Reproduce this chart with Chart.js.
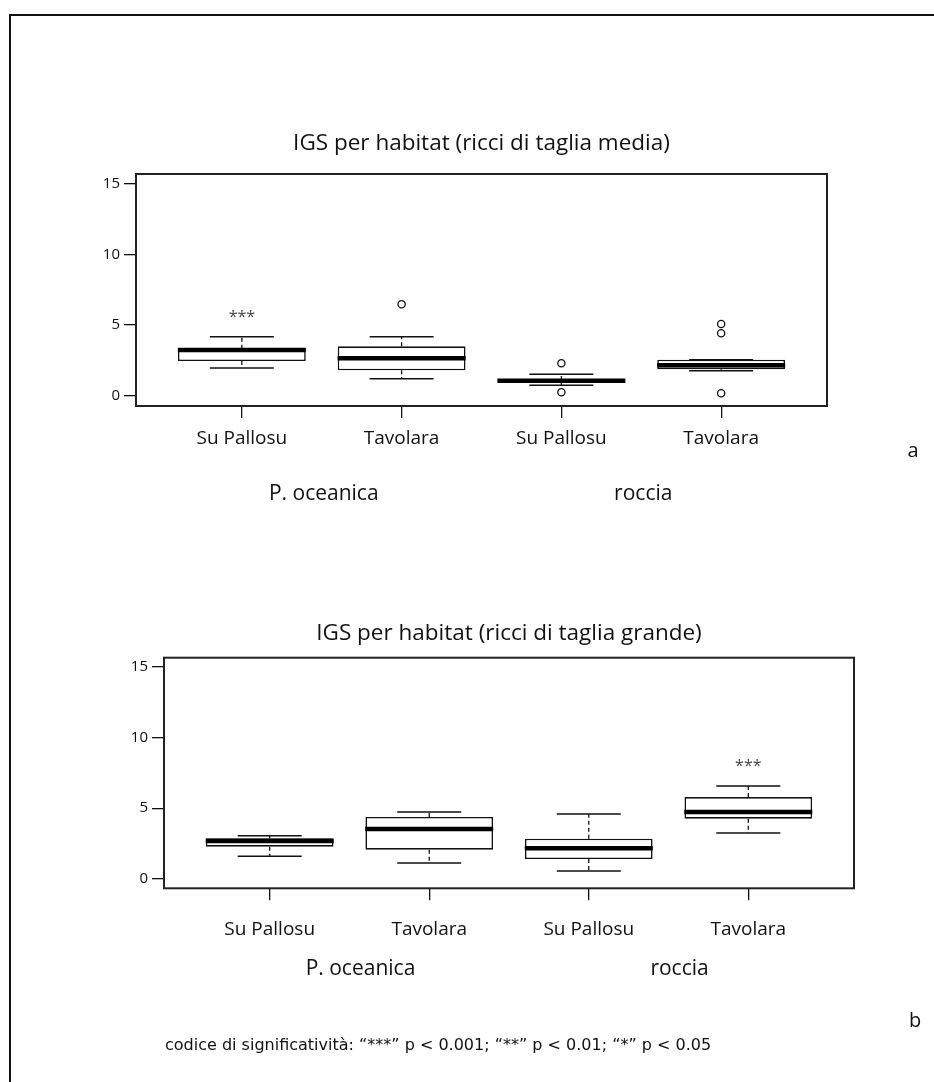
<!DOCTYPE html>
<html><head><meta charset="utf-8">
<script src="https://cdn.jsdelivr.net/npm/chart.js@4.4.1/dist/chart.umd.min.js"></script>
<style>
html,body{margin:0;padding:0;background:#fff;width:934px;height:1082px;overflow:hidden;position:relative;}
#frame{position:absolute;left:9px;top:14px;width:940px;height:1090px;border-top:2px solid #111;border-left:2px solid #111;}
canvas{position:absolute;left:0;}
#c1{top:0;width:934px;height:540px;}
#c2{top:540px;width:934px;height:542px;}
</style></head><body>
<div id="frame"></div>
<canvas id="c1" width="934" height="540"></canvas>
<canvas id="c2" width="934" height="542"></canvas>
<script>
// ---- data ----
const categories = ['Su Pallosu', 'Tavolara', 'Su Pallosu', 'Tavolara'];
const groups = ['P. oceanica', 'roccia'];
const groupPositions = [1.5, 3.5];
const yTicks = [0, 5, 10, 15];

// Panel a: IGS, medium-size urchins
const mediaLow    = [1.96, 1.20, 0.74, 1.77];
const mediaQ1     = [2.46, 1.80, 1.00, 1.88];
const mediaMedian = [3.24, 2.65, 1.06, 2.15];
const mediaQ3     = [3.33, 3.50, 1.12, 2.55];
const mediaHigh   = [4.18, 4.18, 1.52, 2.55];
const mediaOutliers = [[], [6.48], [2.30, 0.24], [5.08, 4.42, 0.17]];
const mediaSignif = ['***', '', '', ''];

// Panel b: IGS, large urchins
const grandeLow    = [1.60, 1.13, 0.56, 3.25];
const grandeQ1     = [2.28, 2.07, 1.41, 4.26];
const grandeMedian = [2.68, 3.53, 2.17, 4.73];
const grandeQ3     = [2.87, 4.38, 2.85, 5.79];
const grandeHigh   = [3.06, 4.73, 4.59, 6.57];
const grandeOutliers = [[], [], [], []];
const grandeSignif = ['', '', '', '***'];

const footerText = 'codice di significativit\u00e0: \u201C***\u201D p < 0.001; \u201C**\u201D p < 0.01; \u201C*\u201D p < 0.05';

// ---- drawing ----
const FONT = '"Open Sans", "Noto Sans", sans-serif';
const INK = '#111';

const extras = {
  id: 'extras',
  afterDraw(chart, args, o) {
    const ctx = chart.ctx, a = chart.chartArea;
    const xs = chart.scales.x, ys = chart.scales.y;
    ctx.save();
    ctx.strokeStyle = '#222'; ctx.lineWidth = 2;
    ctx.strokeRect(a.left, a.top, a.right - a.left, a.bottom - a.top);
    ctx.fillStyle = '#444'; ctx.font = '16px ' + FONT;
    ctx.textAlign = 'center'; ctx.textBaseline = 'alphabetic';
    o.signif.forEach((s, i) => {
      if (s) ctx.fillText(s, xs.getPixelForValue(i + 1), ys.getPixelForValue(o.high[i]) - 21 + 6);
    });
    ctx.fillStyle = '#111'; ctx.font = '20px ' + FONT; ctx.textBaseline = 'middle';
    ctx.fillText(o.letter, o.letterX, o.letterY);
    if (o.footer) {
      ctx.font = '16px "DejaVu Sans"'; ctx.textAlign = 'left';
      ctx.fillText(o.footer, o.footerX, o.footerY);
    }
    ctx.restore();
  }
};

function boxChart(id, d, L) {
  const xs = categories.map((_, i) => i + 1);
  const boxes = xs.map((x, i) => ({x, y: [d.q1[i], d.q3[i]]}));
  const medians = xs.map((x, i) => ({x, y: d.med[i]}));
  const caps = xs.flatMap((x, i) => [{x, y: d.low[i]}, {x, y: d.high[i]}]);
  const whiskers = xs.flatMap((x, i) => [
    {x, y: d.q3[i]}, {x, y: d.high[i]}, {x, y: null},
    {x, y: d.q1[i]}, {x, y: d.low[i]}, {x, y: null}]);
  const outliers = xs.flatMap((x, i) => d.out[i].map(v => ({x, y: v})));
  const xmin = 0.3375, xmax = 4.6625;

  return new Chart(document.getElementById(id), {
    type: 'scatter',
    data: {
      datasets: [
        {type: 'scatter', data: medians, pointStyle: 'line', pointRadius: 64, pointBorderWidth: 4.5,
         pointBorderColor: '#000', pointBackgroundColor: '#000'},
        {type: 'scatter', data: outliers, pointStyle: 'circle', pointRadius: 3.6, pointBorderWidth: 1.3,
         pointBorderColor: '#111', pointBackgroundColor: '#fff'},
        {type: 'scatter', data: caps, pointStyle: 'line', pointRadius: 32, pointBorderWidth: 1.5,
         pointBorderColor: '#111'},
        {type: 'line', data: whiskers, pointRadius: 0, borderColor: '#111', borderWidth: 1.3,
         borderDash: [4, 3], spanGaps: false, tension: 0, fill: false},
        {type: 'bar', data: boxes, backgroundColor: '#fff', borderColor: '#111', borderWidth: 1.6,
         borderSkipped: false, barPercentage: 0.8, categoryPercentage: 1}
      ]
    },
    options: {
      responsive: false, animation: false, events: [],
      layout: {padding: {left: 0, right: L.padRight, top: L.padTop, bottom: L.padBottom}},
      plugins: {
        legend: {display: false}, tooltip: {enabled: false},
        title: {display: true, text: L.title, fullSize: false, color: INK,
                font: {family: FONT, size: 22.5, weight: 'normal'}, padding: {top: 0, bottom: L.titlePad}},
        extras: {signif: d.signif, high: d.high, letter: L.letter, letterX: L.letterX, letterY: L.letterY,
                 footer: L.footer, footerX: L.footerX, footerY: L.footerY}
      },
      scales: {
        x: {type: 'linear', position: 'bottom', min: xmin, max: xmax, bounds: 'data', weight: 0, offset: false,
            afterBuildTicks: s => { s.ticks = xs.map(v => ({value: v})); },
            afterFit: s => { s.height = 50; },
            border: {display: false},
            grid: {display: true, offset: false, drawOnChartArea: false, drawTicks: true, tickLength: 12, color: '#111', lineWidth: 1.3},
            ticks: {callback: (v, i) => categories[i], color: INK, font: {family: FONT, size: 19},
                    padding: L.xPad, maxRotation: 0, autoSkip: false}},
        x2: {type: 'linear', position: 'bottom', min: xmin, max: xmax, bounds: 'data', weight: 1, offset: false,
             afterBuildTicks: s => { s.ticks = groupPositions.map(v => ({value: v})); },
             afterFit: s => { s.height = 50; },
             border: {display: false}, grid: {display: false, offset: false},
             ticks: {callback: (v, i) => groups[i], color: INK, font: {family: FONT, size: 21},
                     padding: L.gPad, labelOffset: L.gOff, maxRotation: 0, autoSkip: false}},
        y: {type: 'linear', min: L.ymin, max: L.ymax, bounds: 'data', offset: false,
            afterBuildTicks: s => { s.ticks = yTicks.map(v => ({value: v})); },
            afterFit: s => { s.width = L.yW; },
            border: {display: false},
            grid: {display: true, offset: false, drawOnChartArea: false, drawTicks: true, tickLength: 12, color: '#111', lineWidth: 1.3},
            ticks: {callback: v => String(v), color: INK, font: {family: FONT, size: 15}, padding: 4}}
      }
    },
    plugins: [extras]
  });
}

boxChart('c1', {low: mediaLow, q1: mediaQ1, med: mediaMedian, q3: mediaQ3, high: mediaHigh,
                out: mediaOutliers, signif: mediaSignif},
  {title: 'IGS per habitat (ricci di taglia media)', padTop: 130.5, titlePad: 16.5, padBottom: 34,
   padRight: 107, yW: 136, ymin: -0.73, ymax: 15.71, xPad: 9.5, gPad: 17, gOff: 2,
   letter: 'a', letterX: 913, letterY: 451});

boxChart('c2', {low: grandeLow, q1: grandeQ1, med: grandeMedian, q3: grandeQ3, high: grandeHigh,
                out: grandeOutliers, signif: grandeSignif},
  {title: 'IGS per habitat (ricci di taglia grande)', padTop: 80.5, titlePad: 10.2, padBottom: 93.7,
   padRight: 80, yW: 164, ymin: -0.66, ymax: 15.64, xPad: 17.5, gPad: 10.6, gOff: 11,
   letter: 'b', letterX: 915, letterY: 481, footer: footerText, footerX: 165, footerY: 506});
</script>
</body></html>
